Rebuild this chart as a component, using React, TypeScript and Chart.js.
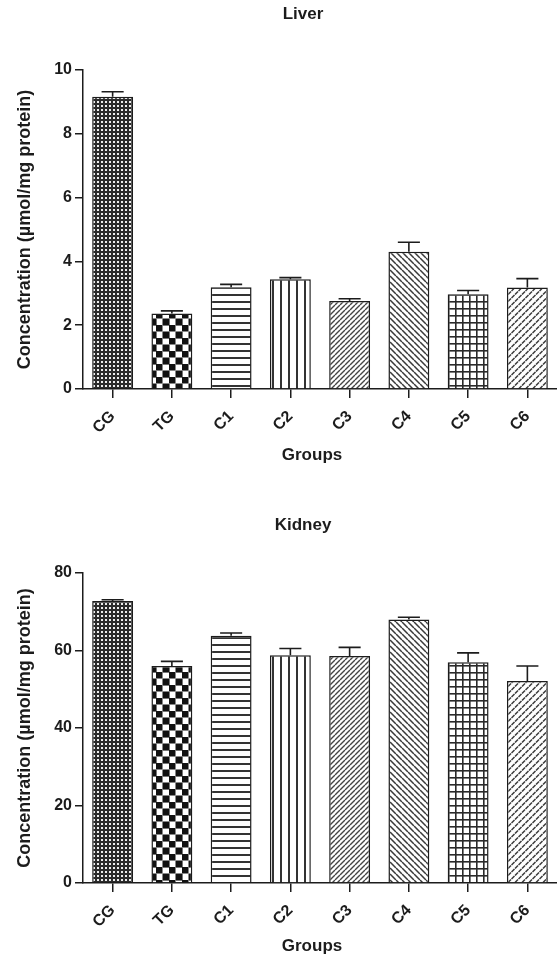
import React, { useEffect, useRef } from "react";
import { Chart, registerables } from "chart.js";

Chart.register(...registerables);

// ---------- data ----------
const groups = ["CG", "TG", "C1", "C2", "C3", "C4", "C5", "C6"];
const liverMeans = [9.16, 2.37, 3.19, 3.44, 2.76, 4.3, 2.97, 3.18];
const liverErrors = [0.16, 0.08, 0.09, 0.05, 0.07, 0.3, 0.12, 0.28];
const kidneyMeans = [72.8, 56.0, 63.8, 58.8, 58.6, 68.0, 57.0, 52.1];
const kidneyErrors = [0.3, 1.2, 0.7, 1.7, 2.2, 0.6, 2.4, 3.9];
const liverTickStep = 2;
const liverMax = 10;
const kidneyTickStep = 20;
const kidneyMax = 80;
const patternKinds = ["dots", "checker", "hlines", "vlines", "diagUp", "diagDown", "grid", "dashDiag"];

const FONT = "'Liberation Sans', Arial, sans-serif";
const INK = "#1c1c1c";

function makePattern(kind: string): CanvasPattern | string {
  const c = document.createElement("canvas");
  const ctx = c.getContext("2d");
  if (!ctx) return "#888";
  const white = () => {
    ctx.fillStyle = "#fff";
    ctx.fillRect(0, 0, c.width, c.height);
  };
  switch (kind) {
    case "dots": {
      c.width = 4; c.height = 4;
      ctx.fillStyle = "#2b2b2b";
      ctx.fillRect(0, 0, 4, 4);
      ctx.fillStyle = "#eeeeee";
      ctx.fillRect(1, 1, 2, 2);
      break;
    }
    case "checker": {
      c.width = 13; c.height = 13;
      white();
      ctx.fillStyle = "#111";
      ctx.fillRect(0, 0, 6.5, 6.5);
      ctx.fillRect(6.5, 6.5, 6.5, 6.5);
      ctx.fillStyle = "#777";
      ctx.fillRect(6.5, 0, 6.5, 1);
      ctx.fillRect(0, 6.5, 1, 6.5);
      break;
    }
    case "hlines": {
      c.width = 8; c.height = 7;
      white();
      ctx.fillStyle = "#333";
      ctx.fillRect(0, 0, 8, 2);
      break;
    }
    case "vlines": {
      c.width = 8; c.height = 8;
      white();
      ctx.fillStyle = "#333";
      ctx.fillRect(0, 0, 2, 8);
      break;
    }
    case "diagUp": {
      const s = 5;
      c.width = s; c.height = s;
      white();
      ctx.strokeStyle = "#444";
      ctx.lineWidth = 1.4;
      ctx.beginPath();
      for (const k of [-s, 0, s]) {
        ctx.moveTo(k, s);
        ctx.lineTo(k + s, 0);
      }
      ctx.stroke();
      break;
    }
    case "diagDown": {
      const s = 6;
      c.width = s; c.height = s;
      white();
      ctx.strokeStyle = "#3a3a3a";
      ctx.lineWidth = 1.5;
      ctx.beginPath();
      for (const k of [-s, 0, s]) {
        ctx.moveTo(k, 0);
        ctx.lineTo(k + s, s);
      }
      ctx.stroke();
      break;
    }
    case "grid": {
      c.width = 7; c.height = 7;
      white();
      ctx.fillStyle = "#2a2a2a";
      ctx.fillRect(0, 0, 7, 1.6);
      ctx.fillRect(0, 0, 1.6, 7);
      break;
    }
    case "dashDiag": {
      const s = 7;
      c.width = s; c.height = s;
      white();
      ctx.strokeStyle = "#3a3a3a";
      ctx.lineWidth = 1.5;
      ctx.beginPath();
      ctx.moveTo(0.5, 4); ctx.lineTo(3.5, 1);
      ctx.moveTo(4, 7.5); ctx.lineTo(7, 4.5);
      ctx.moveTo(-3, 7.5); ctx.lineTo(0, 4.5);
      ctx.moveTo(4, 0.5); ctx.lineTo(7, -2.5);
      ctx.stroke();
      break;
    }
    default:
      return "#999";
  }
  return ctx.createPattern(c, "repeat") || "#999";
}

const errorBarPlugin = {
  id: "errorBars",
  afterDatasetsDraw(chart: any, _args: any, opts: any) {
    const meta = chart.getDatasetMeta(0);
    const values = chart.data.datasets[0].data as number[];
    const errs: number[] = opts.errors || [];
    const yScale = chart.scales.y;
    const ctx = chart.ctx;
    ctx.save();
    ctx.strokeStyle = INK;
    ctx.lineWidth = 1.6;
    meta.data.forEach((bar: any, i: number) => {
      const v = values[i];
      const top = yScale.getPixelForValue(v + errs[i]);
      const base = yScale.getPixelForValue(v);
      const half = bar.width * 0.27;
      ctx.beginPath();
      ctx.moveTo(bar.x, base);
      ctx.lineTo(bar.x, top);
      ctx.moveTo(bar.x - half, top);
      ctx.lineTo(bar.x + half, top);
      ctx.stroke();
    });
    ctx.restore();
  },
};

const textPlugin = {
  id: "panelText",
  afterDraw(chart: any, _args: any, opts: any) {
    const { ctx, chartArea } = chart;
    ctx.save();
    ctx.fillStyle = INK;
    ctx.textAlign = "center";
    ctx.textBaseline = "middle";
    ctx.font = `bold 17px ${FONT}`;
    const cx = (chartArea.left + chartArea.right) / 2;
    ctx.fillText(opts.title, cx + opts.titleShift, opts.titleY);
    ctx.fillText(opts.xTitle, cx + opts.xTitleShift, opts.xTitleY);
    ctx.font = `bold 18px ${FONT}`;
    ctx.translate(opts.yTitleX, (chartArea.top + chartArea.bottom) / 2);
    ctx.rotate(-Math.PI / 2);
    ctx.fillText(opts.yTitle, 0, 0);
    ctx.restore();
  },
};

interface PanelProps {
  title: string;
  means: number[];
  errors: number[];
  max: number;
  step: number;
  height: number;
  top: number;
  xAxisHeight: number;
  titleY: number;
  xTitleY: number;
}

function Panel(p: PanelProps) {
  const ref = useRef<HTMLCanvasElement | null>(null);
  useEffect(() => {
    const canvas = ref.current;
    if (!canvas) return;
    const patterns = patternKinds.map((k) => makePattern(k));
    const chart = new Chart(canvas, {
      type: "bar",
      data: {
        labels: groups,
        datasets: [
          {
            data: p.means,
            backgroundColor: patterns as any,
            borderColor: INK,
            borderWidth: 1.5,
            barPercentage: 0.69,
            categoryPercentage: 1,
          },
        ],
      },
      options: {
        responsive: false,
        animation: false,
        devicePixelRatio: 1,
        layout: { padding: { top: p.top, left: 0, right: 0, bottom: 0 } },
        plugins: {
          legend: { display: false },
          tooltip: { enabled: false },
          title: { display: false },
          errorBars: { errors: p.errors },
          panelText: {
            title: p.title,
            titleShift: -17,
            titleY: p.titleY,
            xTitle: "Groups",
            xTitleShift: -8,
            xTitleY: p.xTitleY,
            yTitle: "Concentration (µmol/mg protein)",
            yTitleX: 25,
          },
        } as any,
        scales: {
          x: {
            type: "category",
            offset: true,
            afterFit: (s: any) => {
              s.height = p.xAxisHeight;
            },
            grid: {
              display: true,
              offset: false,
              drawOnChartArea: false,
              drawTicks: true,
              tickLength: 9,
              color: INK,
              lineWidth: 1.5,
            },
            border: { display: true, color: INK, width: 1.5 },
            ticks: {
              color: INK,
              font: { family: FONT, size: 16, weight: "bold" },
              minRotation: 45,
              maxRotation: 45,
              padding: 9,
              autoSkip: false,
            },
          },
          y: {
            min: 0,
            max: p.max,
            afterFit: (s: any) => {
              s.width = 83;
            },
            grid: {
              display: true,
              drawOnChartArea: false,
              drawTicks: true,
              tickLength: 8,
              color: INK,
              lineWidth: 1.5,
            },
            border: { display: true, color: INK, width: 1.5 },
            ticks: {
              stepSize: p.step,
              color: INK,
              font: { family: FONT, size: 16, weight: "bold" },
              padding: 3,
            },
          },
        },
      },
      plugins: [errorBarPlugin, textPlugin],
    });
    return () => chart.destroy();
  }, []);
  return (
    <canvas
      ref={ref}
      width={557}
      height={p.height}
      style={{ display: "block", width: 557, height: p.height }}
    />
  );
}

export default function App() {
  return (
    <div
      style={{
        position: "fixed",
        left: 0,
        top: 0,
        width: 557,
        height: 956,
        background: "#fff",
        overflow: "hidden",
      }}
    >
      <Panel
        title="Liver"
        means={liverMeans}
        errors={liverErrors}
        max={liverMax}
        step={liverTickStep}
        height={490}
        top={70}
        xAxisHeight={101}
        titleY={14}
        xTitleY={455}
      />
      <Panel
        title="Kidney"
        means={kidneyMeans}
        errors={kidneyErrors}
        max={kidneyMax}
        step={kidneyTickStep}
        height={466}
        top={83}
        xAxisHeight={73}
        titleY={35}
        xTitleY={456}
      />
    </div>
  );
}
